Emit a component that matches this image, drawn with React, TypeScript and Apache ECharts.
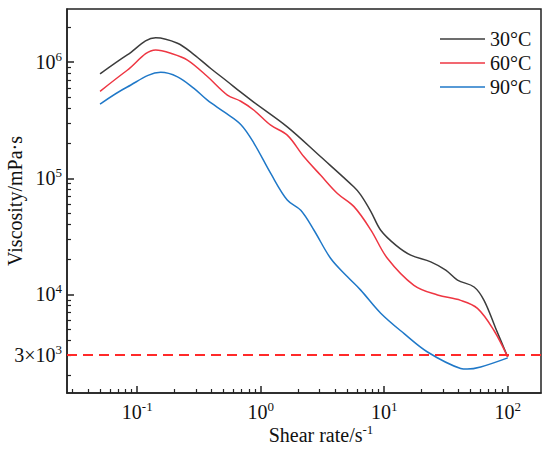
import React, { useEffect, useRef } from "react";
import * as echarts from "echarts";

const seriesNames = ["30°C", "60°C", "90°C"];
const seriesColors = ["#3c3c3c", "#ee3642", "#1f78c8"];

const x30 = [0.05, 0.083, 0.141, 0.212, 0.288, 0.394, 0.537, 0.689, 0.882, 1.64, 3.06, 5.69, 6.45, 7.78, 9.37, 12.4, 16.4, 23.8, 31.5, 39.2, 53.4, 64.3, 80, 100];
const y30 = [7.9e5, 1.15e6, 1.62e6, 1.45e6, 1.16e6, 8.8e5, 6.8e5, 5.5e5, 4.5e5, 2.77e5, 1.53e5, 8.4e4, 7.2e4, 5.2e4, 3.57e4, 2.66e4, 2.18e4, 1.91e4, 1.62e4, 1.33e4, 1.16e4, 8.9e3, 5.1e3, 2.9e3];

const x60 = [0.05, 0.083, 0.141, 0.187, 0.255, 0.37, 0.537, 0.689, 0.882, 1.205, 1.64, 2.24, 3.06, 4.18, 5.69, 7.78, 10.6, 17.4, 27, 41.6, 56.9, 77.4, 100];
const y60 = [5.6e5, 8.5e5, 1.27e6, 1.19e6, 1.04e6, 7.5e5, 5.2e5, 4.6e5, 3.85e5, 2.86e5, 2.35e5, 1.53e5, 1.06e5, 7.4e4, 5.7e4, 3.6e4, 2.05e4, 1.2e4, 9.9e3, 8.9e3, 7.6e3, 4.9e3, 2.9e3];

const x90 = [0.05, 0.083, 0.155, 0.212, 0.288, 0.37, 0.505, 0.689, 0.882, 1.205, 1.64, 2.11, 2.7, 3.69, 5.04, 6.45, 9.37, 14.5, 22.4, 41.6, 47, 60.4, 100];
const y90 = [4.35e5, 6.1e5, 8.15e5, 7.46e5, 5.93e5, 4.7e5, 3.72e5, 2.9e5, 2.0e5, 1.1e5, 6.5e4, 5.3e4, 3.57e4, 2.04e4, 1.42e4, 1.09e4, 6.9e3, 4.6e3, 3.2e3, 2.31e3, 2.28e3, 2.38e3, 2.85e3];

const xMajorTicks = [0.1, 1, 10, 100];
const yMajorTicks = [3000, 1e4, 1e5, 1e6];
const thresholdValue = 3000;

const xMin = 0.027;
const xMax = 186;
const yMin = 1420;
const yMax = 2.86e6;

function minorTicks(lo: number, hi: number): number[] {
  const out: number[] = [];
  for (let e = -3; e <= 7; e++) {
    for (let k = 2; k <= 9; k++) {
      const v = k * Math.pow(10, e);
      if (v > lo && v < hi) out.push(v);
    }
  }
  return out;
}

const FONT = "'Liberation Serif', 'Times New Roman', serif";

function fmt(v: number): string {
  if (Math.abs(v - 3000) < 1) return "3×10{sup|3}";
  const e = Math.round(Math.log10(v));
  return "10{sup|" + e + "}";
}

const labelRich = {
  sup: { fontSize: 13, lineHeight: 13, verticalAlign: "top", fontFamily: FONT, color: "#111" },
};

export default function App() {
  const ref = useRef<HTMLDivElement>(null);
  useEffect(() => {
    if (!ref.current) return;
    const chart = echarts.init(ref.current, undefined, { renderer: "svg" });
    const toPairs = (xs: number[], ys: number[]) => xs.map((x, i) => [x, ys[i]]);
    const datasets = [toPairs(x30, y30), toPairs(x60, y60), toPairs(x90, y90)];
    const axisCommonLabel = {
      fontSize: 20,
      lineHeight: 24,
      fontFamily: FONT,
      color: "#111",
      formatter: fmt,
      rich: labelRich,
    };
    chart.setOption({
      animation: false,
      textStyle: { fontFamily: FONT },
      grid: {
        left: 67,
        top: 9,
        right: 9,
        bottom: 57,
        containLabel: false,
        outerBoundsMode: "none",
        show: true,
        borderColor: "#222",
        borderWidth: 1.5,
        backgroundColor: "transparent",
      },
      legend: {
        data: seriesNames,
        orient: "vertical",
        left: 435,
        top: 24,
        icon: "rect",
        itemWidth: 45,
        itemHeight: 1.6,
        itemGap: 4,
        textStyle: { fontSize: 20, lineHeight: 20, fontFamily: FONT, color: "#111" },
      },
      xAxis: [
        {
          type: "log",
          min: xMin,
          max: xMax,
          name: "Shear rate/s{sup|-1}",
          nameLocation: "middle",
          nameGap: 30,
          nameMoveOverlap: false,
          nameTextStyle: {
            fontSize: 20,
            lineHeight: 24,
            fontFamily: FONT,
            color: "#111",
            padding: [0, 0, 0, 34],
            rich: labelRich,
          },
          axisLine: { show: true, lineStyle: { color: "#222", width: 1.5 } },
          axisTick: { show: true, inside: true, length: 7, customValues: xMajorTicks, lineStyle: { color: "#222", width: 1.5 } },
          axisLabel: { ...axisCommonLabel, margin: 7, customValues: xMajorTicks },
          splitLine: { show: false },
        },
        {
          type: "log",
          min: xMin,
          max: xMax,
          position: "bottom",
          axisLine: { show: false },
          axisTick: { show: true, inside: true, length: 4, customValues: minorTicks(xMin, xMax), lineStyle: { color: "#222", width: 1.2 } },
          axisLabel: { show: false },
          splitLine: { show: false },
        },
      ],
      yAxis: [
        {
          type: "log",
          min: yMin,
          max: yMax,
          name: "Viscosity/mPa·s",
          nameLocation: "middle",
          nameGap: 42,
          nameMoveOverlap: false,
          nameTextStyle: { fontSize: 20, fontFamily: FONT, color: "#111" },
          axisLine: { show: true, lineStyle: { color: "#222", width: 1.5 } },
          axisTick: { show: true, inside: true, length: 7, customValues: yMajorTicks, lineStyle: { color: "#222", width: 1.5 } },
          axisLabel: { ...axisCommonLabel, margin: 5, customValues: yMajorTicks },
          splitLine: { show: false },
        },
        {
          type: "log",
          min: yMin,
          max: yMax,
          position: "left",
          axisLine: { show: false },
          axisTick: { show: true, inside: true, length: 4, customValues: minorTicks(yMin, yMax), lineStyle: { color: "#222", width: 1.2 } },
          axisLabel: { show: false },
          splitLine: { show: false },
        },
      ],
      series: seriesNames.map((name, i) => ({
        name,
        type: "line",
        xAxisIndex: 0,
        yAxisIndex: 0,
        data: datasets[i],
        smooth: 0.35,
        symbol: "none",
        showSymbol: false,
        lineStyle: { color: seriesColors[i], width: 1.5 },
        itemStyle: { color: seriesColors[i] },
        markLine:
          i === 0
            ? {
                silent: true,
                symbol: "none",
                label: { show: false },
                lineStyle: { color: "#ff2a2a", width: 2, type: [10, 6] },
                data: [{ yAxis: thresholdValue }],
              }
            : undefined,
      })),
    });
    return () => chart.dispose();
  }, []);
  return <div ref={ref} style={{ width: 550, height: 450, position: "absolute", left: 0, top: 0 }} />;
}
